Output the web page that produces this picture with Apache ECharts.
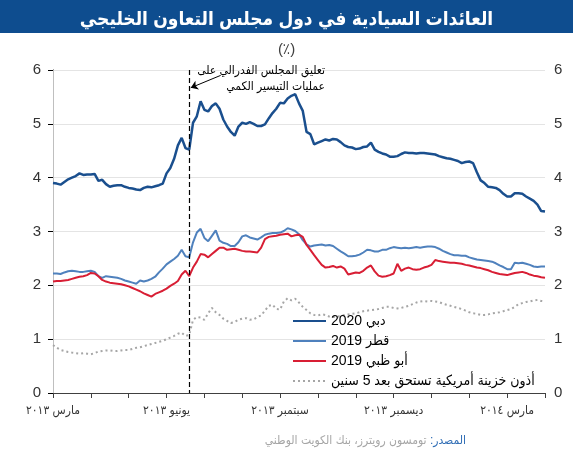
<!DOCTYPE html>
<html>
<head>
<meta charset="utf-8">
<script src="https://cdn.jsdelivr.net/npm/echarts@6/dist/echarts.min.js"></script>
<style>
  html, body { margin: 0; padding: 0; background: #fff; }
  #chart { width: 573px; height: 450px; }
</style>
</head>
<body>
<div id="chart"></div>
<script>
// 131 points, March 2013 -> April 2014 (10 points per month)
const xLabels = ['مارس ٢٠١٣', 'يونيو ٢٠١٣', 'سبتمبر ٢٠١٣', 'ديسمبر ٢٠١٣', 'مارس ٢٠١٤'];
const labelStep = 30;
const fedIndex = 36;

const dubai = [
  3.90, 3.89, 3.87, 3.92, 3.97, 4.00, 4.03, 4.08, 4.05, 4.06,
  4.06, 4.07, 3.94, 3.96, 3.88, 3.83, 3.85, 3.86, 3.86, 3.83,
  3.81, 3.80, 3.78, 3.77, 3.81, 3.83, 3.82, 3.84, 3.86, 3.89,
  4.08, 4.18, 4.35, 4.60, 4.74, 4.55, 4.52, 5.02, 5.14, 5.42,
  5.26, 5.23, 5.33, 5.38, 5.28, 5.08, 4.95, 4.85, 4.78, 4.95,
  5.02, 5.00, 5.03, 5.00, 4.96, 4.96, 4.99, 5.10, 5.20, 5.28,
  5.39, 5.38, 5.47, 5.52, 5.55, 5.38, 5.24, 4.85, 4.81, 4.62,
  4.65, 4.68, 4.71, 4.69, 4.72, 4.71, 4.66, 4.60, 4.57, 4.56,
  4.53, 4.54, 4.57, 4.58, 4.65, 4.52, 4.48, 4.45, 4.43, 4.39,
  4.39, 4.40, 4.44, 4.47, 4.46, 4.46, 4.45, 4.46, 4.46, 4.45,
  4.44, 4.43, 4.40, 4.38, 4.36, 4.35, 4.33, 4.31, 4.27, 4.29,
  4.30, 4.27, 4.10, 3.95, 3.90, 3.83, 3.82, 3.81, 3.77, 3.70,
  3.65, 3.65, 3.71, 3.71, 3.70, 3.65, 3.61, 3.57, 3.50, 3.38,
  3.37
];

const qatar = [
  2.22, 2.22, 2.21, 2.24, 2.26, 2.27, 2.26, 2.25, 2.25, 2.26,
  2.27, 2.25, 2.17, 2.14, 2.17, 2.16, 2.15, 2.14, 2.12, 2.09,
  2.07, 2.05, 2.03, 2.09, 2.07, 2.09, 2.12, 2.16, 2.24, 2.31,
  2.39, 2.44, 2.49, 2.55, 2.66, 2.54, 2.52, 2.80, 2.98, 3.05,
  2.88, 2.82, 2.92, 3.02, 2.83, 2.79, 2.77, 2.73, 2.73, 2.80,
  2.91, 2.93, 2.89, 2.87, 2.85, 2.89, 2.94, 2.96, 2.97, 2.97,
  2.98, 3.01, 3.06, 3.04, 3.01, 2.95, 2.84, 2.76, 2.72, 2.74,
  2.75, 2.76, 2.74, 2.75, 2.73, 2.68, 2.63, 2.59, 2.54, 2.54,
  2.55, 2.57, 2.61, 2.66, 2.65, 2.63, 2.63, 2.66, 2.66, 2.69,
  2.71, 2.70, 2.69, 2.70, 2.69, 2.70, 2.71, 2.70, 2.71, 2.72,
  2.72, 2.71, 2.68, 2.64, 2.61, 2.58, 2.56, 2.56, 2.55, 2.55,
  2.52, 2.50, 2.48, 2.47, 2.46, 2.45, 2.44, 2.41, 2.37, 2.34,
  2.30, 2.30, 2.42, 2.41, 2.42, 2.40, 2.38, 2.35, 2.34, 2.35,
  2.35
];

const abuDhabi = [
  2.07, 2.08, 2.08, 2.09, 2.10, 2.12, 2.14, 2.16, 2.17, 2.19,
  2.23, 2.22, 2.17, 2.10, 2.07, 2.05, 2.04, 2.03, 2.02, 2.00,
  1.98, 1.95, 1.92, 1.89, 1.85, 1.82, 1.79, 1.84, 1.87, 1.90,
  1.94, 1.99, 2.03, 2.08, 2.20, 2.27, 2.17, 2.33, 2.44, 2.58,
  2.57, 2.52, 2.58, 2.64, 2.70, 2.70, 2.66, 2.67, 2.68, 2.66,
  2.64, 2.63, 2.63, 2.62, 2.61, 2.70, 2.86, 2.90, 2.91, 2.92,
  2.94, 2.95, 2.96, 2.91, 2.93, 2.94, 2.90, 2.75, 2.66, 2.56,
  2.47, 2.38, 2.33, 2.34, 2.36, 2.33, 2.35, 2.31, 2.20, 2.22,
  2.24, 2.23, 2.27, 2.33, 2.37, 2.26, 2.18, 2.16, 2.17, 2.19,
  2.22, 2.40, 2.27, 2.31, 2.33, 2.30, 2.29, 2.30, 2.33, 2.35,
  2.38, 2.47, 2.45, 2.44, 2.43, 2.42, 2.42, 2.41, 2.40, 2.38,
  2.37, 2.35, 2.33, 2.32, 2.30, 2.28, 2.25, 2.23, 2.21, 2.20,
  2.19, 2.21, 2.23, 2.24, 2.25, 2.23, 2.20, 2.18, 2.17, 2.15,
  2.14
];

const treasury5y = [
  0.89, 0.84, 0.80, 0.78, 0.76, 0.75, 0.74, 0.73, 0.74, 0.73,
  0.72, 0.74, 0.77, 0.78, 0.79, 0.79, 0.78, 0.78, 0.79, 0.80,
  0.80, 0.82, 0.84, 0.85, 0.87, 0.89, 0.91, 0.93, 0.95, 0.97,
  1.00, 1.03, 1.06, 1.10, 1.12, 1.06, 1.08, 1.36, 1.41, 1.40,
  1.36, 1.48, 1.58, 1.50, 1.45, 1.38, 1.34, 1.30, 1.32, 1.36,
  1.38, 1.39, 1.36, 1.37, 1.41, 1.44, 1.53, 1.62, 1.64, 1.56,
  1.55, 1.70, 1.76, 1.72, 1.75, 1.68, 1.60, 1.54, 1.48, 1.45,
  1.44, 1.46, 1.45, 1.42, 1.41, 1.42, 1.43, 1.45, 1.46, 1.47,
  1.48, 1.50, 1.52, 1.53, 1.54, 1.55, 1.56, 1.58, 1.60, 1.60,
  1.58, 1.57, 1.58, 1.60, 1.62, 1.65, 1.68, 1.70, 1.71, 1.70,
  1.71, 1.70, 1.69, 1.66, 1.64, 1.62, 1.60, 1.58, 1.56, 1.53,
  1.50, 1.48, 1.47, 1.45, 1.45, 1.46, 1.48, 1.49, 1.50, 1.52,
  1.54, 1.56, 1.60, 1.65, 1.67, 1.69, 1.70, 1.72, 1.73, 1.71,
  1.70
];

const names = ['دبي 2020', 'قطر 2019', 'أبو ظبي 2019', 'أذون خزينة أمريكية تستحق بعد 5 سنين'];
const FONT = '"Liberation Sans", "DejaVu Sans Condensed", "DejaVu Sans", Arial, sans-serif';

function pairs(arr) {
  return arr.map((v, i) => [i, v]);
}

let myChart = echarts.init(document.getElementById('chart'));

let option = {
  animation: false,
  textStyle: { fontFamily: FONT },
  title: [
    {
      text: 'العائدات السيادية في دول مجلس التعاون الخليجي',
      left: 'center',
      top: 5,
      textStyle: { color: '#fff', fontSize: 19, fontWeight: 'bold', fontFamily: FONT }
    },
    {
      text: '(٪)',
      left: 'center',
      top: 37,
      textStyle: { color: '#404040', fontSize: 15, fontWeight: 'normal', fontFamily: FONT }
    },
    {
      text: '{g|تومسون رويترز، بنك الكويت الوطني}{b| :المصدر}',
      right: 102,
      top: 430,
      textStyle: {
        fontWeight: 'normal',
        rich: {
          g: { color: '#A6A6A6', fontSize: 12, fontWeight: 'normal', fontFamily: FONT },
          b: { color: '#2F6DB5', fontSize: 12, fontWeight: 'normal', fontFamily: FONT }
        }
      }
    }
  ],
  graphic: [
    {
      type: 'rect',
      z: 0,
      shape: { x: 0, y: 0, width: 573, height: 33 },
      style: { fill: '#0E4D8F' }
    },
    {
      type: 'text',
      z: 10,
      style: {
        text: 'تعليق المجلس الفدرالي على',
        x: 325, y: 71,
        align: 'right', verticalAlign: 'middle',
        textAlign: 'right', textVerticalAlign: 'middle',
        fill: '#000',
        font: '12px ' + FONT
      }
    },
    {
      type: 'text',
      z: 10,
      style: {
        text: 'عمليات التيسير الكمي',
        x: 325, y: 87,
        align: 'right', verticalAlign: 'middle',
        textAlign: 'right', textVerticalAlign: 'middle',
        fill: '#000',
        font: '12px ' + FONT
      }
    }
  ],
  legend: {
    orient: 'vertical',
    left: 287,
    top: 309,
    itemWidth: 33,
    itemHeight: 14,
    itemGap: 6,
    data: names,
    itemStyle: { opacity: 0 },
    textStyle: { fontSize: 14, color: '#000', fontFamily: FONT }
  },
  grid: { left: 53, right: 28, top: 70, bottom: 57 },
  xAxis: [
    {
      type: 'value',
      position: 'bottom',
      min: 0,
      max: 130,
      interval: 10,
      axisLine: { lineStyle: { color: '#404040', width: 1 } },
      axisTick: { length: 5, lineStyle: { color: '#404040' } },
      axisLabel: { show: false },
      splitLine: { show: false }
    },
    {
      type: 'value',
      position: 'bottom',
      min: 0,
      max: 130,
      interval: labelStep,
      axisLine: { show: false },
      axisTick: { show: false },
      splitLine: { show: false },
      axisLabel: {
        margin: 12,
        fontSize: 12,
        color: '#333',
        fontFamily: FONT,
        formatter: function (v) {
          return xLabels[v / labelStep] || '';
        }
      }
    }
  ],
  yAxis: [
    {
      type: 'value',
      position: 'left',
      min: 0,
      max: 6,
      interval: 1,
      axisLine: { show: true, lineStyle: { color: '#000' } },
      axisTick: { show: true, length: 5, lineStyle: { color: '#000' } },
      axisLabel: { fontSize: 15, color: '#333', margin: 12, fontFamily: FONT },
      splitLine: { lineStyle: { color: '#E4E4E4' } }
    },
    {
      type: 'value',
      position: 'right',
      min: 0,
      max: 6,
      interval: 1,
      axisLine: { show: true, lineStyle: { color: '#BFBFBF' } },
      axisTick: { show: false },
      axisLabel: { fontSize: 15, color: '#333', margin: 9, fontFamily: FONT },
      splitLine: { show: false }
    }
  ],
  series: [
    {
      name: names[3],
      type: 'line',
      symbol: 'none',
      data: pairs(treasury5y),
      lineStyle: { color: '#A6A6A6', width: 2, type: [2, 3] },
      itemStyle: { color: '#A6A6A6' }
    },
    {
      name: names[1],
      type: 'line',
      symbol: 'none',
      data: pairs(qatar),
      lineStyle: { color: '#4F81BD', width: 2 },
      itemStyle: { color: '#4F81BD' }
    },
    {
      name: names[2],
      type: 'line',
      symbol: 'none',
      data: pairs(abuDhabi),
      lineStyle: { color: '#D81E34', width: 2 },
      itemStyle: { color: '#D81E34' }
    },
    {
      name: names[0],
      type: 'line',
      symbol: 'none',
      data: pairs(dubai),
      lineStyle: { color: '#1A4F8E', width: 2.5 },
      itemStyle: { color: '#1A4F8E' },
      markLine: {
        silent: true,
        label: { show: false },
        data: [
          [
            { coord: [fedIndex, 6], symbol: 'none', lineStyle: { color: '#000', type: [5, 3], width: 1.2 } },
            { coord: [fedIndex, 0], symbol: 'none' }
          ],
          [
            { coord: [44.3, 5.9], symbol: 'none', lineStyle: { color: '#000', type: 'solid', width: 1 } },
            { coord: [36.4, 5.67], symbol: 'arrow', symbolSize: 7 }
          ]
        ]
      }
    }
  ]
};

myChart.setOption(option);
</script>
</body>
</html>
